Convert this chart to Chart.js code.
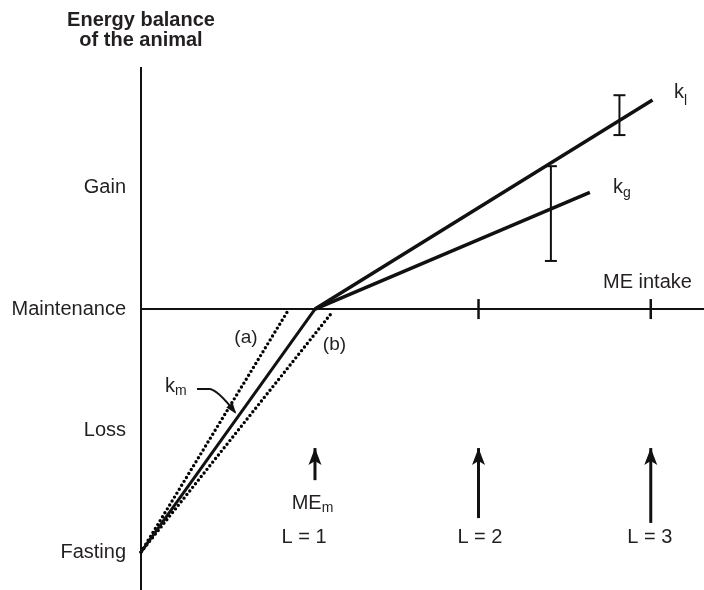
<!DOCTYPE html>
<html>
<head>
<meta charset="utf-8">
<script src="https://cdn.jsdelivr.net/npm/chart.js@4.4.1/dist/chart.umd.min.js"></script>
<style>
  html, body { margin: 0; padding: 0; background: #fff; }
  canvas { display: block; }
</style>
</head>
<body>
<canvas id="energyChart" width="704" height="590"></canvas>
<script>
// energy balance levels (fasting loss = -1) and their names
const levelValues = [-1, -0.5, 0, 0.5];
const levelLabels = ['Fasting', 'Loss', 'Maintenance', 'Gain'];

// ME intake, as multiples of maintenance
const intakeLevels = [1, 1.94, 2.93];
const intakeLabels = ['L = 1', 'L = 2', 'L = 3'];

// below maintenance: km and the two dotted alternatives (a), (b)
const kmX = [0, 1];
const kmY = [-1, 0];
const kmAX = [0, 0.84];
const kmAY = [-1, -0.012];
const kmBX = [0, 1.1];
const kmBY = [-1, -0.012];

// above maintenance: kl and kg
const klX = [1, 2.94];
const klY = [0, 0.86];
const kgX = [1, 2.58];
const kgY = [0, 0.48];

// ranges drawn on kl and kg
const klRangeX = 2.75;
const klRangeY = [0.716, 0.88];
const kgRangeX = 2.356;
const kgRangeY = [0.198, 0.588];

// arrows under the intake levels (tail, tip)
const arrowTail = [-0.704, -0.86, -0.88];
const arrowTip = -0.572;

const xMax = 3.236;

const INK = '#111';
const TEXT = '#231f20';
const FONT = "'Liberation Sans', Arial, sans-serif";

const pts = (xs, ys) => xs.map((x, i) => ({ x: x, y: ys[i] }));

function line(data, width, extra) {
  return Object.assign({
    data: data,
    showLine: true,
    borderColor: INK,
    borderWidth: width,
    pointRadius: 0,
    clip: false
  }, extra || {});
}

const dotted = { borderDash: [0, 4.6], borderCapStyle: 'round', borderColor: '#000' };

const datasets = [
  // ME intake axis with its two tick marks
  line(pts([0, intakeLevels[1], intakeLevels[2], xMax], [0, 0, 0, 0]), 2, {
    pointRadius: [0, 10, 10, 0],
    pointStyle: 'line',
    pointRotation: 90,
    pointBorderColor: INK,
    pointBorderWidth: 2.5
  }),
  line(pts(kmX, kmY), 3),
  line(pts(kmAX, kmAY), 3.4, dotted),
  line(pts(kmBX, kmBY), 3.4, dotted),
  line(pts(klX, klY), 3.5),
  line(pts(kgX, kgY), 3.5),
  line(pts([klRangeX, klRangeX], klRangeY), 2, {
    pointRadius: 6, pointStyle: 'line', pointBorderColor: INK, pointBorderWidth: 2
  }),
  line(pts([kgRangeX, kgRangeX], kgRangeY), 2, {
    pointRadius: 6, pointStyle: 'line', pointBorderColor: INK, pointBorderWidth: 2
  })
];

intakeLevels.forEach((x, i) => {
  datasets.push(line(pts([x, x], [arrowTail[i], arrowTip]), 3, { arrowHead: true }));
});

// text pieces: [text, size, dy]
function drawText(ctx, parts, px, py, align) {
  let w = 0;
  parts.forEach(p => { ctx.font = p[1] + 'px ' + FONT; w += ctx.measureText(p[0]).width; });
  let x = align === 'center' ? px - w / 2 : px;
  ctx.textAlign = 'left';
  ctx.textBaseline = 'alphabetic';
  parts.forEach(p => {
    ctx.font = p[1] + 'px ' + FONT;
    ctx.fillText(p[0], x, py + (p[2] || 0));
    x += ctx.measureText(p[0]).width;
  });
}

const notes = {
  id: 'notes',
  afterDatasetsDraw(chart) {
    const ctx = chart.ctx;
    const sx = chart.scales.x, sy = chart.scales.y;
    const X = v => sx.getPixelForValue(v), Y = v => sy.getPixelForValue(v);
    ctx.save();

    // arrow heads
    chart.data.datasets.forEach((ds, i) => {
      if (!ds.arrowHead) return;
      const tip = chart.getDatasetMeta(i).data[1];
      ctx.fillStyle = INK;
      ctx.beginPath();
      ctx.moveTo(tip.x, tip.y);
      ctx.lineTo(tip.x + 6.5, tip.y + 17);
      ctx.lineTo(tip.x, tip.y + 13);
      ctx.lineTo(tip.x - 6.5, tip.y + 17);
      ctx.closePath();
      ctx.fill();
    });

    // leader from km label to the km line
    const lx = X(0.322), ly = Y(-0.329);
    const tx = X(0.54), ty = Y(-0.424);
    ctx.strokeStyle = INK;
    ctx.lineWidth = 2;
    ctx.beginPath();
    ctx.moveTo(lx, ly);
    ctx.lineTo(lx + 12, ly);
    ctx.quadraticCurveTo(lx + 20, ly, tx, ty);
    ctx.stroke();
    const ang = Math.atan2(ty - ly, tx - (lx + 20));
    ctx.fillStyle = INK;
    ctx.beginPath();
    ctx.moveTo(tx + 2 * Math.cos(ang), ty + 2 * Math.sin(ang));
    ctx.lineTo(tx - 9 * Math.cos(ang) + 4 * Math.sin(ang), ty - 9 * Math.sin(ang) - 4 * Math.cos(ang));
    ctx.lineTo(tx - 9 * Math.cos(ang) - 4 * Math.sin(ang), ty - 9 * Math.sin(ang) + 4 * Math.cos(ang));
    ctx.closePath();
    ctx.fill();

    ctx.fillStyle = TEXT;
    // y axis title
    ctx.font = 'bold 20px ' + FONT;
    ctx.textAlign = 'center';
    ctx.textBaseline = 'alphabetic';
    const ax = X(0);
    ctx.fillText('Energy balance', ax, chart.chartArea.top - 42);
    ctx.fillText('of the animal', ax, chart.chartArea.top - 22);

    drawText(ctx, [['ME intake', 20]], X(2.911), Y(0.086), 'center');
    drawText(ctx, [['k', 20], ['l', 14, 7]], X(3.063), Y(0.868), 'left');
    drawText(ctx, [['k', 20], ['g', 14, 4]], X(2.713), Y(0.477), 'left');
    drawText(ctx, [['k', 20], ['m', 14, 3]], X(0.138), Y(-0.342), 'left');
    drawText(ctx, [['(a)', 19]], X(0.603), Y(-0.14), 'center');
    drawText(ctx, [['(b)', 19]], X(1.112), Y(-0.169), 'center');
    drawText(ctx, [['ME', 20], ['m', 14, 3]], X(0.986), Y(-0.823), 'center');

    const lxs = [0.937, 1.948, 2.925];
    intakeLabels.forEach((t, i) => drawText(ctx, [[t, 20]], X(lxs[i]), Y(-0.963), 'center'));

    ctx.restore();
  }
};

new Chart(document.getElementById('energyChart'), {
  type: 'scatter',
  data: { datasets: datasets },
  options: {
    responsive: false,
    animation: false,
    devicePixelRatio: 1,
    layout: { autoPadding: false, padding: { top: 68, left: 0, right: 0, bottom: 0 } },
    plugins: { legend: { display: false }, tooltip: { enabled: false } },
    scales: {
      x: { type: 'linear', min: 0, max: xMax, display: false },
      y: {
        type: 'linear',
        min: -1.156,
        max: 0.992,
        afterBuildTicks: s => { s.ticks = levelValues.map(v => ({ value: v })); },
        afterFit: s => { s.width = 141; s.paddingTop = 0; s.paddingBottom = 0; },
        grid: { display: false, drawTicks: false },
        border: { display: true, color: INK, width: 2 },
        ticks: {
          autoSkip: false,
          padding: 15,
          color: TEXT,
          font: { family: FONT, size: 20 },
          callback: (v, i) => levelLabels[i]
        }
      }
    }
  },
  plugins: [notes]
});
</script>
</body>
</html>
